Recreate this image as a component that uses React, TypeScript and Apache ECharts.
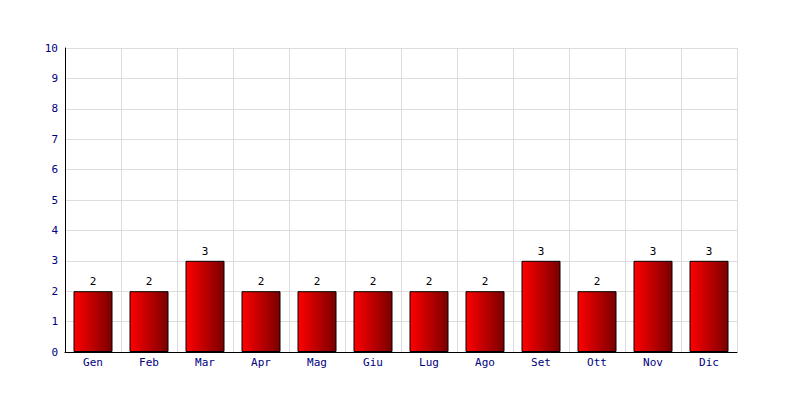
import React, { useEffect, useRef } from "react";
import * as echarts from "echarts";

const categories = ["Gen", "Feb", "Mar", "Apr", "Mag", "Giu", "Lug", "Ago", "Set", "Ott", "Nov", "Dic"];
const values = [2, 2, 3, 2, 2, 2, 2, 2, 3, 2, 3, 3];
const yMin = 0;
const yMax = 10;
const yInterval = 1;

export default function App() {
  const ref = useRef<HTMLDivElement>(null);
  useEffect(() => {
    if (!ref.current) return;
    const chart = echarts.init(ref.current, null, { renderer: "svg" });
    const font = "'DejaVu Sans Mono', monospace";
    chart.setOption({
      animation: false,
      backgroundColor: "#ffffff",
      grid: { left: 65, right: 63, top: 48, bottom: 48 },
      xAxis: {
        type: "category",
        data: categories,
        boundaryGap: true,
        axisLine: { show: true, lineStyle: { color: "#000000", width: 1 } },
        axisTick: { show: false },
        axisLabel: { color: "#000080", fontFamily: font, fontSize: 11, margin: 5 },
        splitLine: { show: true, lineStyle: { color: "#dddddd", width: 1 } },
      },
      yAxis: {
        type: "value",
        min: yMin,
        max: yMax,
        interval: yInterval,
        axisLine: { show: true, lineStyle: { color: "#000000", width: 1 } },
        axisTick: { show: false },
        axisLabel: { color: "#000080", fontFamily: font, fontSize: 11, margin: 7 },
        splitLine: { show: true, lineStyle: { color: "#dddddd", width: 1 } },
      },
      series: [
        {
          type: "bar",
          data: values,
          barWidth: 39,
          itemStyle: {
            color: new echarts.graphic.LinearGradient(0, 0, 1, 0, [
              { offset: 0, color: "#ff0000" },
              { offset: 1, color: "#7a0000" },
            ]),
            borderColor: "#000000",
            borderWidth: 1,
          },
          label: {
            show: true,
            position: "top",
            color: "#000000",
            fontFamily: font,
            fontSize: 11,
            distance: 4,
          },
        },
      ],
    });
    return () => chart.dispose();
  }, []);
  return <div ref={ref} style={{ width: 800, height: 400, position: "absolute", left: 0, top: 0 }} />;
}
